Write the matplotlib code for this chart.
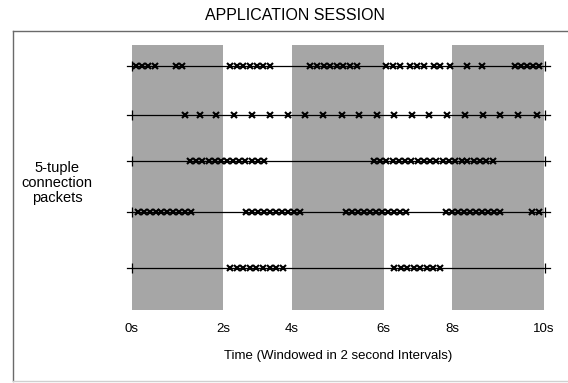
"""
Schematic of packet arrivals for five 5-tuple connections within one
application session, windowed in 2 second intervals.

Output:
    out.png
"""

import matplotlib

matplotlib.use("Agg")
import matplotlib.pyplot as plt
from matplotlib.lines import Line2D

plt.rcParams["font.family"] = ["Liberation Sans", "DejaVu Sans"]

# x axis is in schematic units: shaded windows span [0,2], [3.5,5.5], [7,9]
WINDOWS = [(0.0, 2.0), (3.5, 5.5), (7.0, 9.0)]
TICK_POS = [0.0, 2.0, 3.5, 5.5, 7.0, 9.0]
TICK_LABELS = ["0s", "2s", "4s", "6s", "8s", "10s"]

# vertical level of each connection line (band spans 0..10)
ROW_LEVELS = [9.19, 7.36, 5.64, 3.70, 1.57]

# packet arrival positions, one list per connection (top to bottom)
CONN_1 = [0.09, 0.22, 0.36, 0.50, 0.97, 1.10,
          2.15, 2.30, 2.44, 2.58, 2.73, 2.87, 3.01,
          3.90, 4.04, 4.19, 4.33, 4.48, 4.62, 4.76, 4.91,
          5.56, 5.71, 5.85, 6.08, 6.23, 6.38, 6.59, 6.72,
          6.95, 7.32, 7.65,
          8.37, 8.50, 8.63, 8.76, 8.89]
CONN_2 = [1.16, 1.49, 1.84, 2.23, 2.63, 3.02, 3.42, 3.79, 4.18, 4.58,
          4.97, 5.36, 5.73, 6.12, 6.49, 6.88, 7.28, 7.67, 8.04, 8.44, 8.85]
CONN_3 = [1.28, 1.41, 1.54, 1.68, 1.81, 1.95, 2.08, 2.21, 2.35, 2.48,
          2.62, 2.75, 2.89,
          5.29, 5.42, 5.56, 5.70, 5.83, 5.97, 6.10, 6.24, 6.38, 6.52,
          6.65, 6.79, 6.92, 7.06, 7.20, 7.33, 7.47, 7.61, 7.74, 7.88]
CONN_4 = [0.14, 0.27, 0.40, 0.52, 0.65, 0.78, 0.91, 1.04, 1.17, 1.30,
          2.50, 2.63, 2.76, 2.89, 3.02, 3.15, 3.28, 3.41, 3.54, 3.67,
          4.68, 4.81, 4.94, 5.07, 5.20, 5.33, 5.46, 5.59, 5.72, 5.86, 5.99,
          6.86, 6.99, 7.12, 7.25, 7.38, 7.51, 7.64, 7.77, 7.90, 8.04,
          8.74, 8.89]
CONN_5 = [2.15, 2.29, 2.44, 2.58, 2.72, 2.86, 3.01, 3.15, 3.30,
          5.73, 5.87, 6.01, 6.16, 6.30, 6.44, 6.58, 6.72]
CONNECTIONS = [CONN_1, CONN_2, CONN_3, CONN_4, CONN_5]

LINE_START, LINE_END = -0.11, 9.13
CAP_START, CAP_END = 0.0, 9.02

W, H = 568, 383


def main() -> None:
    fig = plt.figure(figsize=(W / 100, H / 100), dpi=100)

    # outer frame (runs off the right edge)
    fig.add_artist(Line2D([13 / W, 13 / W], [2 / H, 1 - 31 / H],
                          color="#6a6a6a", lw=1.0))
    fig.add_artist(Line2D([13 / W, 1.0], [1 - 31 / H, 1 - 31 / H],
                          color="#6a6a6a", lw=1.0))
    fig.add_artist(Line2D([13 / W, 1.0], [2 / H, 2 / H],
                          color="#d0d0d0", lw=1.0))

    ax = fig.add_axes([131.7 / W, (H - 310) / H, (544 - 131.7) / W, (310 - 45) / H])
    ax.set_xlim(0, 9)
    ax.set_ylim(0, 10)

    for x0, x1 in WINDOWS:
        ax.axvspan(x0, x1, color="#a6a6a6", lw=0)

    for level, times in zip(ROW_LEVELS, CONNECTIONS):
        ax.plot([LINE_START, LINE_END], [level, level], color="black",
                lw=0.9, clip_on=False, zorder=2)
        ax.plot([CAP_START, CAP_END], [level, level], ls="none", marker="|",
                ms=7, mew=0.9, color="black", clip_on=False, zorder=3)
        ax.plot(times, [level] * len(times), ls="none", marker="x",
                ms=4.8, mew=1.5, color="black", clip_on=False, zorder=4)

    ax.set_xticks(TICK_POS)
    ax.set_xticklabels(TICK_LABELS, fontsize=9.5)
    ax.tick_params(axis="x", length=0, pad=9)
    ax.set_yticks([])
    ax.set_xlabel("Time (Windowed in 2 second Intervals)", fontsize=9.5,
                  labelpad=11)
    for spine in ax.spines.values():
        spine.set_visible(False)

    fig.text(295 / W, 1 - 15 / H, "APPLICATION SESSION", fontsize=11.5,
             ha="center", va="center")
    fig.text(57 / W, 1 - 183 / H, "5-tuple\nconnection\npackets", fontsize=10.5,
             ha="center", va="center", linespacing=1.05)

    fig.savefig("out.png", dpi=100)
    plt.close(fig)


if __name__ == "__main__":
    main()
